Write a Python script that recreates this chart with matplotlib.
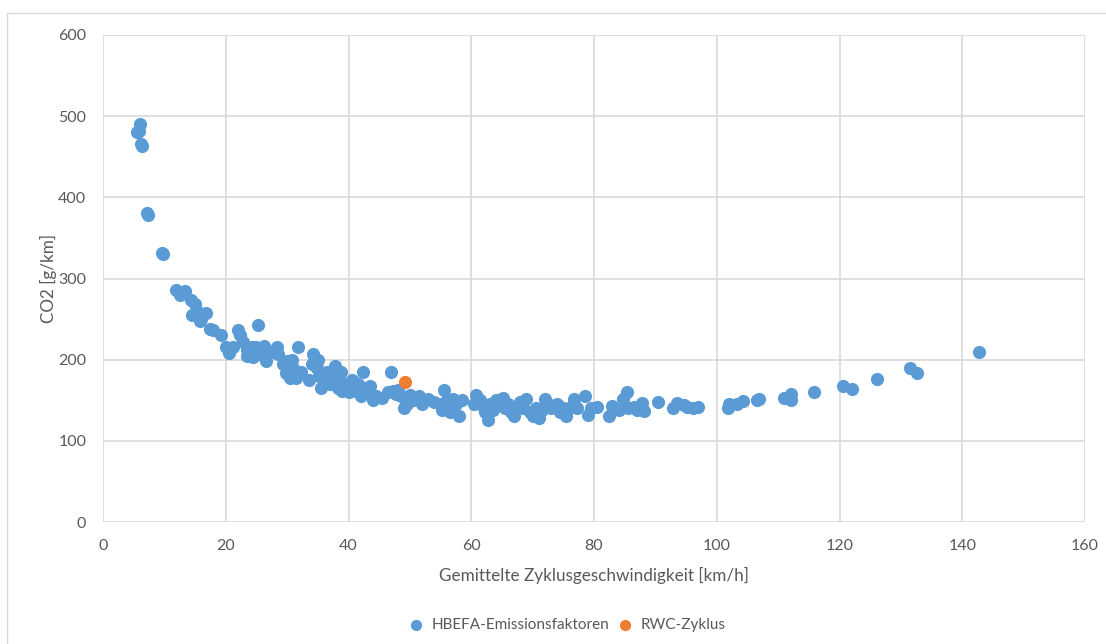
import matplotlib.pyplot as plt
from matplotlib.patches import Rectangle

# HBEFA emission factors: mean cycle speed [km/h] vs CO2 [g/km]
hbefa_speed = [
    5.5, 5.8, 6.0, 6.2, 6.3, 7.2, 7.3, 9.6, 9.8,
    11.9, 12.5, 13.3, 14.3, 15.0, 14.5, 15.3, 16.0, 16.8, 15.8,
    17.5, 18.0, 19.2, 20.0, 20.5, 21.2, 22.0, 22.3, 22.8, 23.5, 23.5,
    24.2, 24.5, 25.2, 25.0, 25.5, 26.3, 26.5, 27.5, 28.3, 28.5,
    29.3, 29.8, 30.0, 30.2, 30.5, 30.8, 31.0, 31.3, 31.5, 31.8, 32.2,
    33.5, 34.0, 34.2, 34.8, 35.0, 35.2, 35.5, 36.0, 36.5, 37.0, 37.5,
    37.8, 38.0, 38.3, 38.8, 39.0, 39.5, 40.0, 40.5, 41.0, 41.5, 42.0,
    42.3, 42.5, 43.0, 43.5, 44.0, 44.5, 45.5,
    46.5, 47.0, 47.3, 47.8, 48.0, 48.5, 49.0, 49.5, 50.0, 50.5, 51.0,
    51.5, 52.0, 52.5, 53.0, 54.0, 55.0, 55.5, 55.3, 56.0, 56.5, 57.0,
    57.5, 58.0, 58.5,
    60.5, 60.7, 61.5, 62.0, 62.3, 62.8, 63.0, 63.5, 64.0, 65.2, 65.5,
    66.0, 66.5, 67.0, 67.5, 68.0, 68.5, 69.0, 69.5, 70.0, 70.5, 71.0,
    71.5, 72.0, 72.5, 73.0, 74.0, 74.5, 75.0, 75.5, 76.0, 76.8, 77.2,
    78.5, 79.0, 79.5, 80.5,
    82.5, 83.0, 84.0, 84.8, 85.3, 85.5, 86.5, 87.0, 87.8, 88.2, 90.5,
    92.8, 93.5, 94.6, 95.2, 96.2, 97.0,
    101.8, 102.0, 103.3, 104.3, 106.5, 106.9, 111.0, 112.1, 112.1,
    115.8, 120.6, 122.0, 126.1, 131.5, 132.6, 142.8,
]
hbefa_co2 = [
    480, 482, 490, 466, 463, 381, 378, 332, 330,
    286, 280, 285, 273, 268, 255, 260, 250, 257, 248,
    238, 236, 231, 215, 208, 215, 236, 230, 222, 212, 205,
    215, 203, 243, 215, 207, 217, 198, 210, 215, 207,
    195, 183, 198, 190, 178, 200, 190, 185, 177, 215, 185,
    175, 195, 207, 190, 200, 180, 165, 172, 185, 170, 180,
    192, 175, 165, 185, 162, 170, 160, 175, 162, 170, 155,
    185, 165, 160, 168, 150, 155, 153,
    160, 185, 162, 158, 163, 155, 140, 145, 157, 150, 153,
    155, 145, 150, 152, 148, 145, 163, 138, 150, 135, 152,
    145, 130, 150,
    145, 157, 150, 140, 135, 126, 145, 138, 150, 153, 140,
    145, 135, 130, 140, 148, 140, 152, 135, 130, 140, 128,
    138, 152, 145, 140, 145, 135, 140, 130, 140, 152, 140,
    155, 132, 140, 142,
    130, 143, 138, 152, 160, 140, 142, 138, 147, 137, 148,
    140, 146, 144, 142, 140, 142,
    140, 145, 145, 149, 150, 151, 153, 158, 150,
    160, 168, 164, 176, 190, 184, 209,
]

# RWC cycle
rwc_speed = [49.2]
rwc_co2 = [172]

x_ticks = [0, 20, 40, 60, 80, 100, 120, 140, 160]
y_ticks = [0, 100, 200, 300, 400, 500, 600]

plt.rcParams['font.family'] = ['Lato', 'DejaVu Sans']
text_color = '#595959'

fig = plt.figure(figsize=(11.06, 6.44), dpi=100)
fig.patches.append(Rectangle((7 / 1106, -0.01), 1.1, 1 - 13 / 644 + 0.01,
                             transform=fig.transFigure, fill=False,
                             edgecolor='#D9D9D9', linewidth=1))

ax = fig.add_axes([103 / 1106, 1 - 522 / 644, (1085 - 103) / 1106, (522 - 35) / 644])

ax.scatter(hbefa_speed, hbefa_co2, s=90, color='#5B9BD5', linewidths=0,
           label='HBEFA-Emissionsfaktoren', zorder=3)
ax.scatter(rwc_speed, rwc_co2, s=90, color='#ED7D31', linewidths=0,
           label='RWC-Zyklus', zorder=4)

ax.set_xlim(0, 160)
ax.set_ylim(0, 600)
ax.set_xticks(x_ticks)
ax.set_yticks(y_ticks)
ax.grid(True, color='#D9D9D9', linewidth=1.2, zorder=0)
ax.set_axisbelow(True)
for s in ax.spines.values():
    s.set_visible(False)
ax.tick_params(length=0, labelsize=11.5, colors=text_color, pad=12)

ax.set_xlabel('Gemittelte Zyklusgeschwindigkeit [km/h]', fontsize=12.3,
              color=text_color, labelpad=10)
ax.set_ylabel('CO2 [g/km]', fontsize=12.3, color=text_color, labelpad=1)

fig.legend(loc='center', bbox_to_anchor=(563 / 1106, 1 - 625 / 644), ncol=2,
           frameon=False, fontsize=11, labelcolor=text_color,
           handletextpad=0.0, columnspacing=0.05, markerscale=0.85)

fig.savefig('out.png', dpi=100)
